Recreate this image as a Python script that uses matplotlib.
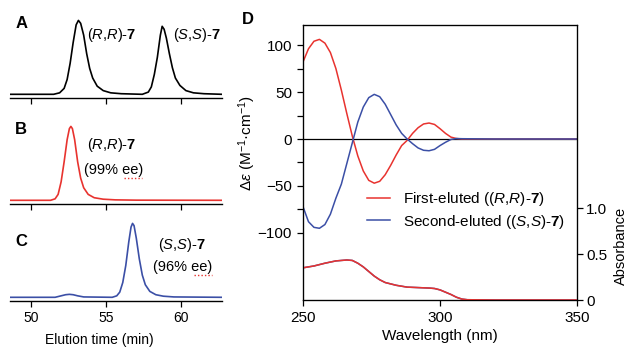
import matplotlib
matplotlib.use('Agg')
import matplotlib.pyplot as plt
from matplotlib.lines import Line2D

plt.rcParams['font.family'] = ['Liberation Sans', 'DejaVu Sans']
plt.rcParams['mathtext.fontset'] = 'custom'
plt.rcParams['mathtext.rm'] = 'Liberation Sans'
plt.rcParams['mathtext.it'] = 'Liberation Sans:italic'
plt.rcParams['mathtext.bf'] = 'Liberation Sans:bold'

# chromatograms (elution time in min, normalised intensity)
t_a = [48.6, 51.5, 51.9, 52.2, 52.4, 52.6, 52.8, 53.0, 53.15, 53.3, 53.5, 53.7, 53.9, 54.1,
       54.4, 54.8, 55.3, 56.0, 57.4, 57.8, 58.0, 58.2, 58.4, 58.6, 58.72, 58.85, 59.0, 59.2,
       59.4, 59.6, 59.9, 60.3, 60.8, 61.5, 62.7]
i_a = [0.0, 0.0, 0.02, 0.08, 0.2, 0.42, 0.7, 0.94, 1.0, 0.96, 0.8, 0.55, 0.35, 0.22,
       0.11, 0.05, 0.02, 0.008, 0.0, 0.03, 0.1, 0.27, 0.5, 0.8, 0.92, 0.88, 0.76, 0.55,
       0.36, 0.22, 0.12, 0.05, 0.02, 0.008, 0.0]

t_b = [48.6, 51.3, 51.6, 51.8, 52.0, 52.2, 52.4, 52.55, 52.65, 52.75, 52.9, 53.1, 53.3,
       53.5, 53.8, 54.2, 54.8, 55.6, 57.0, 62.7]
i_b = [0.0, 0.0, 0.02, 0.08, 0.25, 0.52, 0.82, 0.97, 1.0, 0.97, 0.82, 0.52, 0.3,
       0.17, 0.08, 0.035, 0.015, 0.006, 0.002, 0.0]

t_c = [48.6, 51.6, 52.0, 52.3, 52.55, 52.8, 53.1, 53.5, 55.4, 55.7, 55.9, 56.1, 56.3, 56.5,
       56.65, 56.75, 56.85, 57.0, 57.2, 57.4, 57.6, 57.9, 58.3, 58.8, 59.5, 62.7]
i_c = [0.0, 0.0, 0.02, 0.035, 0.04, 0.035, 0.02, 0.005, 0.0, 0.02, 0.07, 0.2, 0.43, 0.75,
       0.95, 1.0, 0.97, 0.8, 0.52, 0.3, 0.17, 0.08, 0.035, 0.015, 0.005, 0.0]

# CD spectra (nm, M-1 cm-1)
wl = [250, 252, 254, 256, 258, 260, 262, 264, 266, 268, 270, 272, 274, 276, 278, 280, 282,
      284, 286, 288, 290, 292, 294, 296, 298, 300, 302, 304, 306, 308, 320, 350]
cd_first = [82, 96, 104, 106, 102, 92, 75, 52, 27, 3, -18, -34, -44, -47, -45, -38, -28,
            -17, -7, -1.5, 6, 12, 16, 17, 15.5, 11, 6, 2, 0.5, 0, 0, 0]
cd_second = [-72, -88, -94, -95, -91, -80, -63, -48, -26, -4, 18, 34, 44, 47.5, 45, 37, 26,
             15, 6, 0, -5, -9.5, -12, -12.5, -11, -7, -3.5, -0.5, 0.5, 0.3, 0, 0]

# UV absorbance
wl_abs = [250, 254, 258, 262, 266, 268, 270, 272, 274, 276, 278, 280, 284, 288, 292, 296,
          298, 300, 302, 304, 306, 308, 310, 320, 350]
abs_first = [0.35, 0.37, 0.40, 0.425, 0.435, 0.43, 0.40, 0.36, 0.31, 0.26, 0.22, 0.19, 0.16,
             0.14, 0.135, 0.13, 0.125, 0.11, 0.085, 0.06, 0.03, 0.01, 0.003, 0.0, 0.0]
abs_second = abs_first

red = '#e8332f'
blue = '#3b4fa6'
W, H = 629, 347

fig = plt.figure(figsize=(6.29, 3.47), dpi=100)


def px_axes(left, top, right, bottom):
    return fig.add_axes([left / W, (H - bottom) / H, (right - left) / W, (bottom - top) / H])


def chrom_panel(bottom, t, y, color, show_labels):
    ax = px_axes(10, bottom - 85, 222, bottom)
    ax.plot(t, y, color=color, lw=1.2)
    ax.set_xlim(48.6, 62.7)
    ax.set_ylim(-0.05, 1.1)
    for s in ['top', 'left', 'right']:
        ax.spines[s].set_visible(False)
    ax.spines['bottom'].set_linewidth(1.0)
    ax.set_yticks([])
    ax.set_xticks([50, 55, 60])
    ax.tick_params(axis='x', direction='out', length=4.5, width=0.9, labelsize=10, pad=3)
    if not show_labels:
        ax.set_xticklabels([])
    return ax


ax_a = chrom_panel(98, t_a, i_a, 'black', False)
ax_b = chrom_panel(204, t_b, i_b, red, False)
ax_c = chrom_panel(301, t_c, i_c, blue, True)
ax_c.set_xlabel('Elution time (min)', fontsize=10, labelpad=2)
ax_c.xaxis.set_label_coords(0.42, -0.38)

lab_rr = r'($\mathit{R}$,$\mathit{R}$)-$\mathbf{7}$'
lab_ss = r'($\mathit{S}$,$\mathit{S}$)-$\mathbf{7}$'
fs_ann = 10.5
fig.text(87 / W, 1 - 35 / H, lab_rr, fontsize=fs_ann, va='center', ha='left')
fig.text(173 / W, 1 - 35 / H, lab_ss, fontsize=fs_ann, va='center', ha='left')
fig.text(112 / W, 1 - 145 / H, lab_rr, fontsize=fs_ann, va='center', ha='center')
fig.text(114 / W, 1 - 170 / H, '(99% ee)', fontsize=fs_ann, va='center', ha='center')
fig.text(182 / W, 1 - 245 / H, lab_ss, fontsize=fs_ann, va='center', ha='center')
fig.text(183 / W, 1 - 267 / H, '(96% ee)', fontsize=fs_ann, va='center', ha='center')
# spell-check squiggles under "ee"
for x0, x1, y0 in [(124, 142, 178), (194, 212, 275)]:
    fig.add_artist(Line2D([x0 / W, x1 / W], [1 - y0 / H, 1 - y0 / H], color=red,
                          lw=1.0, ls=(0, (1, 1.5))))

for letter, x, y in [('A', 22, 23), ('B', 21, 130), ('C', 21, 242), ('D', 248, 20)]:
    fig.text(x / W, 1 - y / H, letter, fontsize=12, fontweight='bold', ha='center', va='center')

# panel D
fs = 11
ax = px_axes(303, 25, 577, 300)
ax.axhline(0, color='black', lw=0.9)
ax.plot(wl, cd_first, color=red, lw=1.1, label='First-eluted ((' + r'$\mathit{R}$,$\mathit{R}$)-$\mathbf{7}$)')
ax.plot(wl, cd_second, color=blue, lw=1.1, label='Second-eluted ((' + r'$\mathit{S}$,$\mathit{S}$)-$\mathbf{7}$)')
ax.set_xlim(250, 350)
ax.set_ylim(-171.3, 121.3)
ax.set_xticks([250, 300, 350])
ax.set_yticks([-100, -50, 0, 50, 100])
ax.set_yticklabels(['\u2212100', '\u221250', '0', '50', '100'])
ax.set_yticks([-75, -25, 25, 75], minor=True)
ax.tick_params(axis='both', which='major', direction='out', length=4.5, width=0.9, labelsize=fs)
ax.tick_params(axis='y', which='minor', direction='out', length=4.5, width=0.9)
ax.set_xlabel('Wavelength (nm)', fontsize=fs, labelpad=3)
ax.set_ylabel(r'$\Delta\mathit{\varepsilon}$ (M$^{-1}$·cm$^{-1}$)', fontsize=fs)
ax.yaxis.set_label_coords(-0.165, 0.57)
for s in ax.spines.values():
    s.set_linewidth(0.9)

ax2 = ax.twinx()
ax2.plot(wl_abs, abs_second, color=blue, lw=1.1)
ax2.plot(wl_abs, abs_first, color=red, lw=1.1)
ax2.set_ylim(0, 2.99)
ax2.set_yticks([0, 0.5, 1.0])
ax2.set_yticklabels(['0', '0.5', '1.0'])
ax2.tick_params(axis='y', direction='out', length=4.5, width=0.9, labelsize=fs, pad=2)
ax2.set_ylabel('Absorbance', fontsize=10.5)
ax2.yaxis.set_label_coords(1.135, 0.196)

ax.legend(loc='upper left', bbox_to_anchor=(0.234, 0.40), frameon=False, fontsize=fs,
          handlelength=1.5, handletextpad=0.85, labelspacing=0.3, borderaxespad=0,
          borderpad=0)

fig.savefig('out.png', dpi=100)
